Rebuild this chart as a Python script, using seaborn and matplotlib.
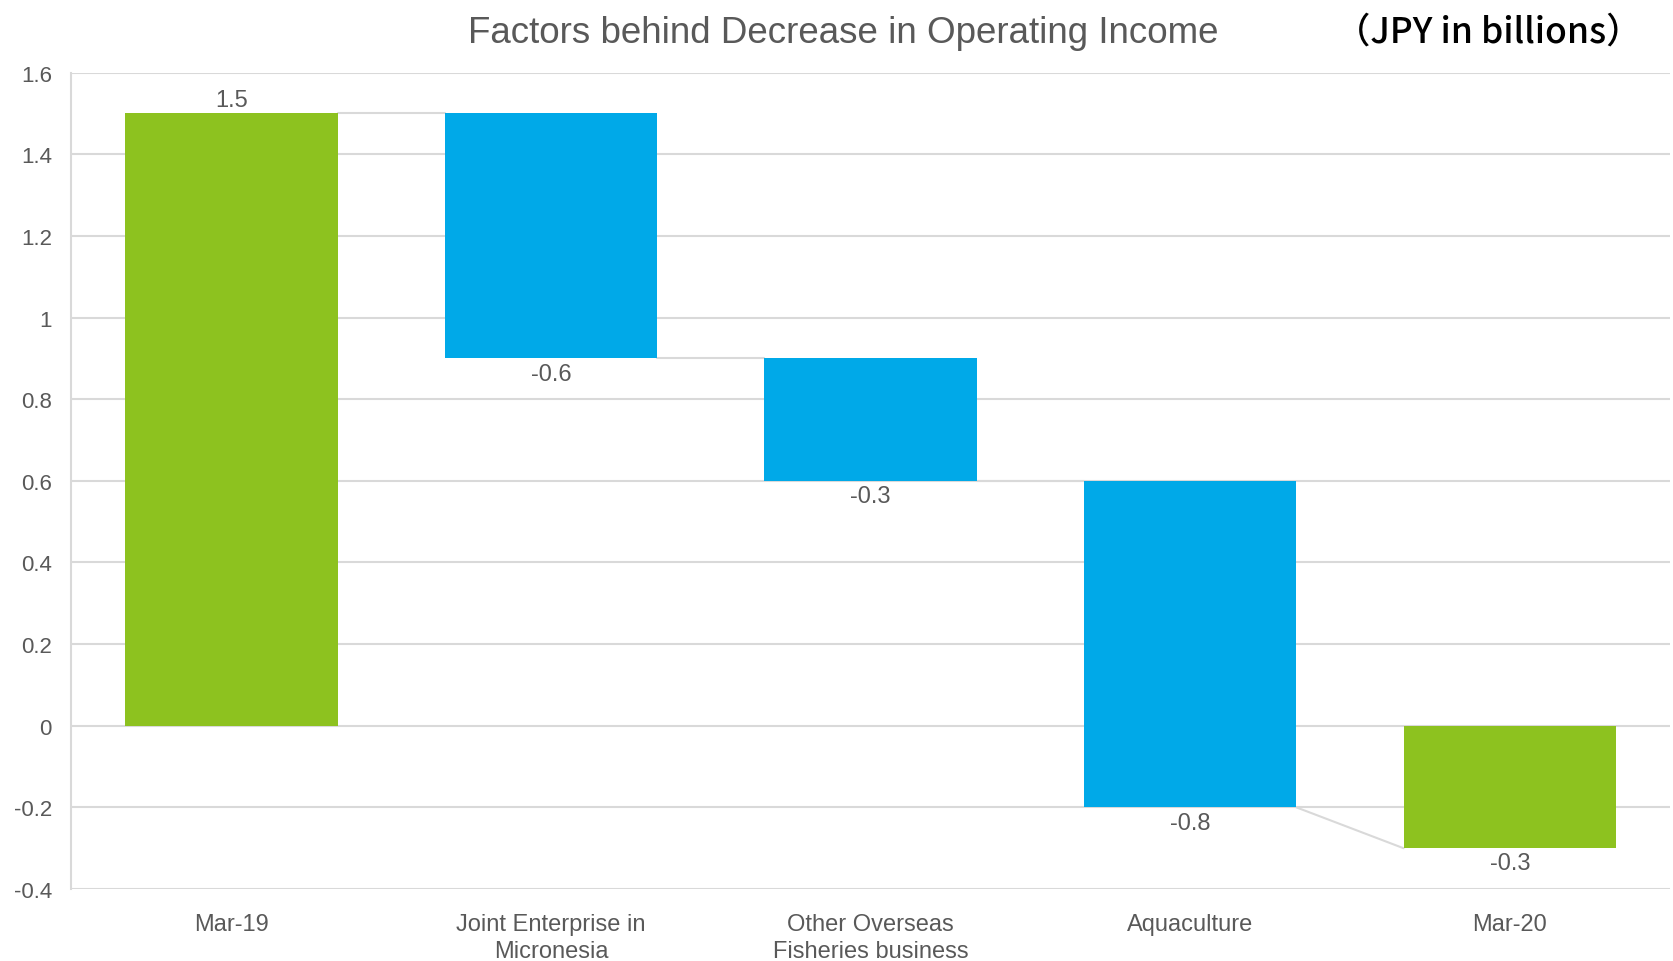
import numpy as np
import pandas as pd
import matplotlib
matplotlib.use("Agg")
import matplotlib.pyplot as plt
import seaborn as sns

# --- data ---
categories = ["Mar-19", "Joint Enterprise in\nMicronesia", "Other Overseas\nFisheries business",
              "Aquaculture", "Mar-20"]
values = [1.5, -0.6, -0.3, -0.8, -0.3]
is_total = [True, False, False, False, True]
yticks = [-0.4, -0.2, 0, 0.2, 0.4, 0.6, 0.8, 1.0, 1.2, 1.4, 1.6]
ytick_labels = ["-0.4", "-0.2", "0", "0.2", "0.4", "0.6", "0.8", "1", "1.2", "1.4", "1.6"]

GREEN = "#8DC21F"
BLUE = "#00A9E8"
GREY_TXT = "#595959"
GRID = "#D9D9D9"

# --- waterfall geometry ---
bottoms, ends = [], []
level = 0.0
for v, tot in zip(values, is_total):
    if tot:
        b = 0.0
        level = v
    else:
        b = level
        level = level + v
    bottoms.append(b)
    ends.append(level)

df = pd.DataFrame({"category": categories, "value": values,
                   "bottom": bottoms, "end": ends, "total": is_total})

sns.set_style("white")
plt.rcParams["font.family"] = ["Liberation Sans", "DejaVu Sans"]

fig = plt.figure(figsize=(16.73, 9.62), dpi=100)
ax = fig.add_axes([0.0427, 0.0748, 0.9553, 0.8487])

width = 0.665
sns.barplot(data=df, x="category", y="value", width=width, ax=ax,
            color=BLUE, edgecolor="none", linewidth=0, zorder=3)

# float the bars and colour them
for p, row in zip(ax.patches, df.itertuples()):
    p.set_y(row.bottom)
    p.set_height(row.value)
    p.set_facecolor(GREEN if row.total else BLUE)

# connector lines
for i in range(len(df) - 1):
    nxt = df.iloc[i + 1]
    target = nxt["end"] if nxt["total"] else nxt["bottom"]
    ax.plot([i + width / 2, i + 1 - width / 2], [df["end"].iloc[i], target],
            color=GRID, lw=1.5, zorder=2)

# value labels
for i, row in df.iterrows():
    top = row["bottom"] + row["value"]
    if row["value"] >= 0:
        ax.annotate(f"{row['value']:.1f}", (i, top), xytext=(0, 2), textcoords="offset points",
                    ha="center", va="bottom", fontsize=17, color=GREY_TXT)
    else:
        ax.annotate(f"{row['value']:.1f}", (i, top), xytext=(0, -3), textcoords="offset points",
                    ha="center", va="top", fontsize=17, color=GREY_TXT)

ax.set_xlim(-0.5, len(df) - 0.5)
ax.set_ylim(-0.4, 1.6)
ax.set_yticks(yticks)
ax.set_yticklabels(ytick_labels)
ax.yaxis.grid(True, color=GRID, lw=1.5, zorder=0)
ax.set_axisbelow(True)
ax.tick_params(axis="both", length=0, labelcolor=GREY_TXT)
ax.tick_params(axis="y", pad=14, labelsize=16)
ax.tick_params(axis="x", pad=17, labelsize=17)
for lbl in ax.get_xticklabels():
    lbl.set_linespacing(1.3)
ax.set_xlabel("")
ax.set_ylabel("")
for s in ["top", "right", "bottom"]:
    ax.spines[s].set_visible(False)
ax.spines["left"].set_color(GRID)
ax.spines["left"].set_linewidth(1.5)

fig.text(0.504, 0.9655, "Factors behind Decrease in Operating Income", ha="center", va="center",
         fontsize=26.5, color=GREY_TXT)
fig.text(0.8895, 0.9665, "（JPY in billions）", ha="center", va="center", fontsize=25.5,
         color="black", family=["Noto Sans CJK JP", "DejaVu Sans"], fontweight="medium")

fig.savefig("out.png", dpi=100)
